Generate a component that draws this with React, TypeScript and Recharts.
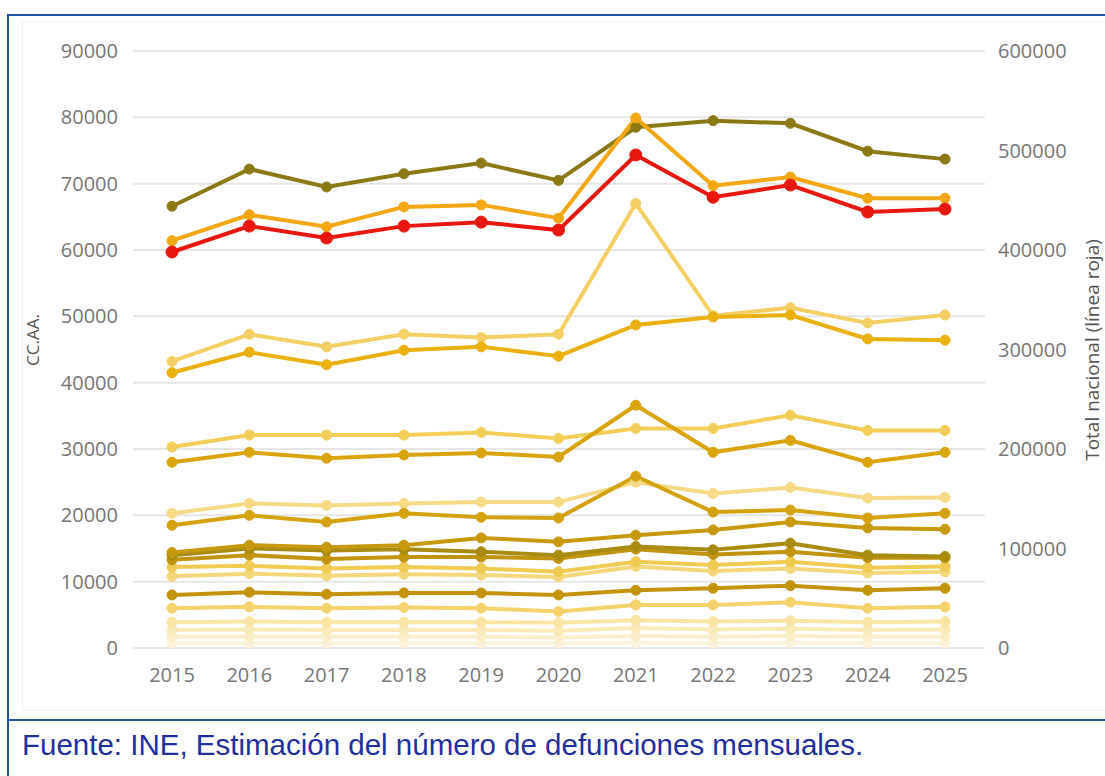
import React from 'react';
import { LineChart, Line, XAxis, YAxis, CartesianGrid } from 'recharts';

const years = [2015, 2016, 2017, 2018, 2019, 2020, 2021, 2022, 2023, 2024, 2025];

const leftTicks = [0, 10000, 20000, 30000, 40000, 50000, 60000, 70000, 80000, 90000];
const rightTicks = [0, 100000, 200000, 300000, 400000, 500000, 600000];

const totalNacional = [398000, 424000, 412000, 424000, 428000, 420000, 495500, 453000, 465300, 438200, 441200];

const andalucia = [66600, 72200, 69500, 71500, 73100, 70500, 78500, 79500, 79100, 74900, 73700];
const cataluna = [61400, 65300, 63500, 66500, 66800, 64800, 79900, 69700, 71000, 67800, 67800];
const madrid = [43200, 47300, 45400, 47300, 46800, 47300, 67000, 50100, 51300, 49000, 50200];
const valencia = [41500, 44600, 42700, 44900, 45400, 44000, 48700, 49900, 50200, 46600, 46400];
const galicia = [30300, 32100, 32100, 32100, 32500, 31600, 33100, 33100, 35100, 32800, 32800];
const castillaLeon = [28000, 29500, 28600, 29100, 29400, 28800, 36600, 29500, 31300, 28000, 29500];
const paisVasco = [20300, 21800, 21500, 21800, 22000, 22000, 25000, 23300, 24200, 22600, 22700];
const castillaMancha = [18500, 20000, 19000, 20300, 19700, 19600, 25900, 20500, 20800, 19600, 20300];
const canarias = [14400, 15500, 15200, 15500, 16600, 16000, 17000, 17800, 19000, 18100, 17900];
const aragon = [14000, 15000, 14700, 14900, 14500, 14000, 15300, 14800, 15800, 14000, 13800];
const asturias = [13300, 14000, 13400, 13700, 13700, 13500, 14900, 14100, 14500, 13600, 13600];
const murcia = [12200, 12400, 12000, 12200, 12000, 11500, 13000, 12500, 13000, 12100, 12300];
const extremadura = [10800, 11200, 10900, 11100, 11000, 10700, 12300, 11600, 12000, 11300, 11500];
const baleares = [8000, 8400, 8100, 8300, 8300, 8000, 8700, 9000, 9400, 8700, 9000];
const cantabria = [6000, 6200, 6000, 6100, 6000, 5500, 6500, 6500, 6900, 6000, 6200];
const navarra = [3900, 4000, 3900, 3900, 3900, 3800, 4200, 4000, 4100, 3900, 4000];
const laRioja = [2700, 2800, 2700, 2700, 2700, 2600, 3000, 2800, 2900, 2700, 2800];
const ceuta = [1700, 1700, 1700, 1700, 1700, 1600, 1800, 1700, 1800, 1700, 1700];
const melilla = [700, 700, 700, 700, 700, 700, 800, 700, 800, 700, 700];

const regions = [
  { key: 'melilla', values: melilla, color: '#FCF3DC' },
  { key: 'ceuta', values: ceuta, color: '#FBEFCB' },
  { key: 'laRioja', values: laRioja, color: '#FAEAB8' },
  { key: 'navarra', values: navarra, color: '#F9E4A4' },
  { key: 'cantabria', values: cantabria, color: '#F5D36C' },
  { key: 'extremadura', values: extremadura, color: '#F4D77A' },
  { key: 'murcia', values: murcia, color: '#EFCB52' },
  { key: 'baleares', values: baleares, color: '#C4930C' },
  { key: 'asturias', values: asturias, color: '#C0940F' },
  { key: 'aragon', values: aragon, color: '#A88B10' },
  { key: 'canarias', values: canarias, color: '#C7990E' },
  { key: 'paisVasco', values: paisVasco, color: '#F6DA86' },
  { key: 'castillaMancha', values: castillaMancha, color: '#D5A20F' },
  { key: 'galicia', values: galicia, color: '#F2CE58' },
  { key: 'castillaLeon', values: castillaLeon, color: '#D9A40E' },
  { key: 'madrid', values: madrid, color: '#F4D064' },
  { key: 'valencia', values: valencia, color: '#E9B010' },
  { key: 'andalucia', values: andalucia, color: '#8A7914' },
  { key: 'cataluna', values: cataluna, color: '#F3A712' },
];

const data = years.map((year, i) => {
  const row: Record<string, number> = { year, total: totalNacional[i] };
  regions.forEach((r) => {
    row[r.key] = r.values[i];
  });
  return row;
});

const tickStyle = { fill: '#767676', fontSize: 20, fontFamily: 'Open Sans, sans-serif' };
const BLUE = '#2155A3';

export default function App() {
  return (
    <div style={{ position: 'absolute', left: 0, top: 0, width: 1105, height: 776, background: '#fff', overflow: 'hidden' }}>
      <div style={{ position: 'absolute', left: 7, top: 14, width: 1200, height: 2, background: BLUE }} />
      <div style={{ position: 'absolute', left: 7, top: 14, width: 2, height: 800, background: BLUE }} />
      <div style={{ position: 'absolute', left: 7, top: 719, width: 1200, height: 2, background: BLUE }} />
      <div style={{ position: 'absolute', left: 22, top: 21, width: 1100, height: 690, border: '1px solid #f1f1f1', boxSizing: 'border-box' }} />
      <div style={{ position: 'absolute', left: 0, top: 0 }}>
        <LineChart width={1105} height={700} data={data} margin={{ top: 51, right: 20, bottom: 12, left: 33 }}>
          <CartesianGrid yAxisId="left" vertical={false} stroke="#e6e6e6" strokeWidth={2} />
          <XAxis
            dataKey="year"
            type="number"
            domain={[2015, 2025]}
            ticks={years}
            padding={{ left: 39, right: 40 }}
            axisLine={false}
            tickLine={false}
            tickSize={0}
            tickMargin={20}
            height={40}
            tick={tickStyle}
            interval={0}
          />
          <YAxis
            yAxisId="left"
            orientation="left"
            domain={[0, 90000]}
            ticks={leftTicks}
            width={100}
            axisLine={false}
            tickLine={false}
            tickSize={0}
            tickMargin={15}
            tick={tickStyle}
            interval={0}
          />
          <YAxis
            yAxisId="right"
            orientation="right"
            domain={[0, 600000]}
            ticks={rightTicks}
            width={100}
            axisLine={false}
            tickLine={false}
            tickSize={0}
            tickMargin={13}
            tick={{ ...tickStyle, textAnchor: 'start' }}
            interval={0}
          />
          {regions.map((r) => (
            <Line
              key={r.key}
              yAxisId="left"
              type="linear"
              dataKey={r.key}
              stroke={r.color}
              strokeWidth={4}
              dot={{ r: 5, fill: r.color, stroke: r.color, strokeWidth: 1 }}
              isAnimationActive={false}
            />
          ))}
          <Line
            yAxisId="right"
            type="linear"
            dataKey="total"
            stroke="#E8170F"
            strokeWidth={4}
            dot={{ r: 6, fill: '#E8170F', stroke: '#E8170F', strokeWidth: 1 }}
            isAnimationActive={false}
          />
        </LineChart>
      </div>
      <div
        style={{
          position: 'absolute',
          left: 32,
          top: 340,
          transform: 'translate(-50%, -50%) rotate(-90deg)',
          whiteSpace: 'nowrap',
          color: '#555',
          fontSize: 17,
          fontFamily: 'Open Sans, sans-serif',
        }}
      >
        CC.AA.
      </div>
      <div
        style={{
          position: 'absolute',
          left: 1092,
          top: 350,
          transform: 'translate(-50%, -50%) rotate(-90deg)',
          whiteSpace: 'nowrap',
          color: '#555',
          fontSize: 19,
          lineHeight: '22px',
          fontFamily: 'Open Sans, sans-serif',
        }}
      >
        Total nacional (línea roja)
      </div>
      <div
        style={{
          position: 'absolute',
          left: 22,
          top: 728,
          whiteSpace: 'nowrap',
          color: '#1F2F9E',
          fontSize: 29.5,
          lineHeight: '34px',
          fontFamily: 'Liberation Sans, Arial, sans-serif',
        }}
      >
        Fuente: INE, Estimación del número de defunciones mensuales.
      </div>
    </div>
  );
}
